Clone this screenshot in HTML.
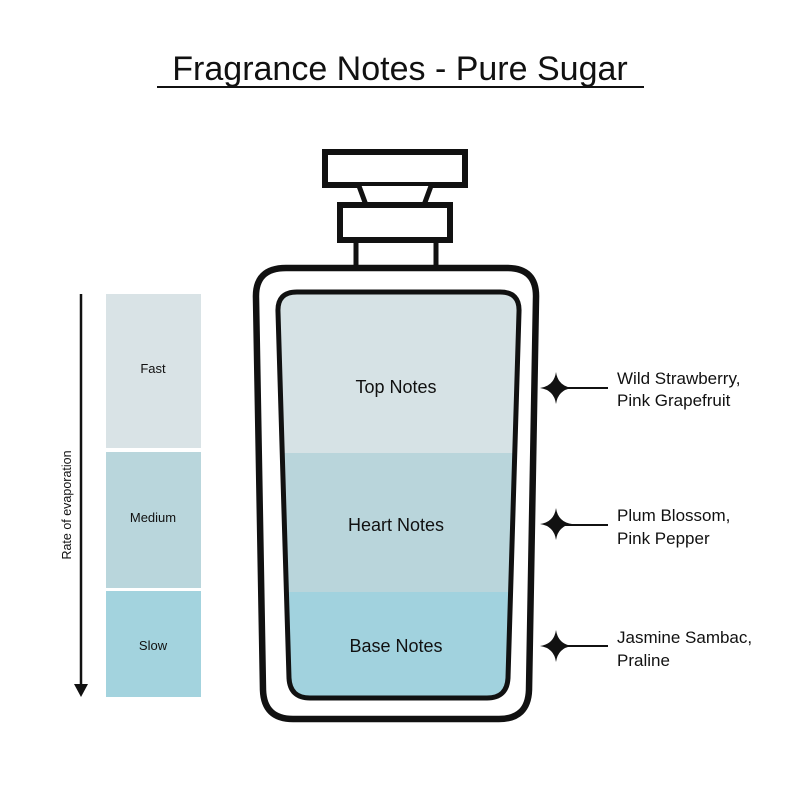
<!DOCTYPE html>
<html><head><meta charset="utf-8"><style>
html,body{margin:0;padding:0;background:#fff;}
svg{display:block;}
text{font-family:"Liberation Sans",Arial,sans-serif;fill:#111;}
</style></head><body>
<svg width="800" height="800" viewBox="0 0 800 800" xmlns="http://www.w3.org/2000/svg">
<rect width="800" height="800" fill="#fff"/>
<text x="400" y="80" font-size="34" text-anchor="middle">Fragrance Notes - Pure Sugar</text>
<line x1="157" y1="87" x2="644" y2="87" stroke="#111" stroke-width="2"/>

<!-- left scale -->
<rect x="106" y="294" width="95" height="154" fill="#d9e3e6"/>
<rect x="106" y="452" width="95" height="136" fill="#b9d6dc"/>
<rect x="106" y="591" width="95" height="106" fill="#a3d3de"/>
<text x="153" y="373" font-size="13" text-anchor="middle">Fast</text>
<text x="153" y="522" font-size="13" text-anchor="middle">Medium</text>
<text x="153" y="650" font-size="13" text-anchor="middle">Slow</text>
<line x1="81" y1="294" x2="81" y2="686" stroke="#111" stroke-width="2.5"/>
<polygon points="74,684 88,684 81,697" fill="#111"/>
<text transform="translate(71,505) rotate(-90)" font-size="12.5" text-anchor="middle">Rate of evaporation</text>

<!-- cap -->
<rect x="325" y="152" width="140" height="33" fill="#fff" stroke="#111" stroke-width="6"/>
<path d="M359,186 L366,205 L424,205 L431,186" fill="#fff" stroke="#111" stroke-width="5"/>
<path d="M356,240 L356,268 M436,240 L436,268" stroke="#111" stroke-width="5"/>
<rect x="340" y="205" width="110" height="35" fill="#fff" stroke="#111" stroke-width="6"/>

<!-- bottle -->
<defs>
<clipPath id="inn"><path d="M297,292 L500,292 Q520,292 519,312 L508,678 Q507,698 487,698 L310,698 Q290,698 289,678 L278,312 Q277,292 297,292 Z"/></clipPath>
</defs>
<path d="M286,268 L507,268 Q537,268 536,298 L529,690 Q528,719 499,719 L293,719 Q264,719 263,690 L256,298 Q255,268 286,268 Z" fill="#fff" stroke="#111" stroke-width="6.5"/>
<g clip-path="url(#inn)">
<rect x="270" y="285" width="260" height="168" fill="#d6e2e5"/>
<rect x="270" y="453" width="260" height="139" fill="#b9d5db"/>
<rect x="270" y="592" width="260" height="115" fill="#a1d2de"/>
</g>
<path d="M297,292 L500,292 Q520,292 519,312 L508,678 Q507,698 487,698 L310,698 Q290,698 289,678 L278,312 Q277,292 297,292 Z" fill="none" stroke="#111" stroke-width="5"/>
<text x="396" y="393" font-size="18" text-anchor="middle">Top Notes</text>
<text x="396" y="531" font-size="18" text-anchor="middle">Heart Notes</text>
<text x="396" y="652" font-size="18" text-anchor="middle">Base Notes</text>

<!-- stars & labels -->
<g fill="#111">
<path d="M556,372 Q558,386 572,388 Q558,390 556,404 Q554,390 540,388 Q554,386 556,372 Z"/>
<path d="M556,508 Q558,522 572,524 Q558,526 556,540 Q554,526 540,524 Q554,522 556,508 Z"/>
<path d="M556,630 Q558,644 572,646 Q558,648 556,662 Q554,648 540,646 Q554,644 556,630 Z"/>
</g>
<g stroke="#111" stroke-width="2">
<line x1="560" y1="388" x2="608" y2="388"/>
<line x1="560" y1="525" x2="608" y2="525"/>
<line x1="560" y1="646" x2="608" y2="646"/>
</g>
<g font-size="17">
<text x="617" y="384">Wild Strawberry,</text>
<text x="617" y="406">Pink Grapefruit</text>
<text x="617" y="521">Plum Blossom,</text>
<text x="617" y="544">Pink Pepper</text>
<text x="617" y="643">Jasmine Sambac,</text>
<text x="617" y="666">Praline</text>
</g>
</svg>
</body></html>
